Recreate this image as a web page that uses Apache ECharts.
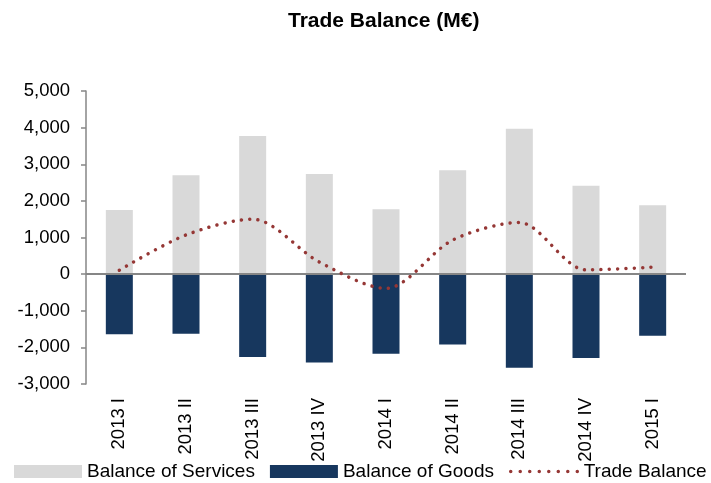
<!DOCTYPE html>
<html style="height: 100%">
<head>
  <meta charset="utf-8">
</head>
<body style="height: 100%; margin: 0">
  <div id="container" style="width: 711px; height: 483px"></div>
  <script type="text/javascript" src="https://cdn.jsdelivr.net/npm/echarts@6/dist/echarts.min.js"></script>
  <script>
    var quarters = ['2013 I', '2013 II', '2013 III', '2013 IV', '2014 I', '2014 II', '2014 III', '2014 IV', '2015 I'];
    var services = [1750, 2700, 3770, 2735, 1770, 2835, 3970, 2410, 1880];
    var goods = [-1645, -1630, -2265, -2410, -2175, -1920, -2555, -2290, -1685];
    var tradeBalance = [105, 1070, 1500, 330, -390, 930, 1410, 115, 190];

    var myChart = echarts.init(document.getElementById('container'), null, { renderer: 'canvas' });

    var font = 'Liberation Sans, Arial, sans-serif';

    var option = {
      animation: false,
      title: {
        text: 'Trade Balance (M€)',
        left: 283,
        top: 6,
        textStyle: { fontFamily: font, fontSize: 21, fontWeight: 'bold', color: '#000' }
      },
      legend: {
        left: 14,
        bottom: 2,
        width: 700,
        padding: 0,
        itemWidth: 68,
        itemHeight: 13,
        itemGap: 15,
        textStyle: { fontFamily: font, fontSize: 19, color: '#000' },
        data: [
          { name: 'Balance of Services', icon: 'rect' },
          { name: 'Balance of Goods', icon: 'rect' },
          {
            name: 'Trade Balance',
            itemStyle: { opacity: 0 },
            lineStyle: { width: 3.5, type: [0.01, 9.5], cap: 'round', color: '#953735' }
          }
        ]
      },
      grid: { left: 86, right: 25, top: 91, bottom: 99 },
      xAxis: {
        type: 'category',
        data: quarters,
        axisLine: { show: false, onZero: false },
        axisTick: { show: false },
        axisLabel: {
          rotate: 90,
          margin: 14,
          fontFamily: font,
          fontSize: 18.5,
          color: '#000'
        }
      },
      yAxis: {
        type: 'value',
        min: -3000,
        max: 5000,
        interval: 1000,
        splitLine: { show: false },
        axisLine: { show: true, lineStyle: { color: '#868686', width: 1.5 } },
        axisTick: { show: true, length: 5, lineStyle: { color: '#868686', width: 1.5 } },
        axisLabel: {
          margin: 16,
          fontFamily: font,
          fontSize: 18.5,
          color: '#000',
          formatter: function (v) { return v.toLocaleString('en-US'); }
        }
      },
      series: [
        {
          name: 'Balance of Services',
          type: 'bar',
          stack: 'total',
          barWidth: 27,
          itemStyle: { color: '#d9d9d9' },
          data: services,
          markLine: {
            silent: true,
            symbol: 'none',
            label: { show: false },
            lineStyle: { color: '#868686', width: 2, type: 'solid' },
            data: [{ yAxis: 0 }]
          }
        },
        {
          name: 'Balance of Goods',
          type: 'bar',
          stack: 'total',
          barWidth: 27,
          itemStyle: { color: '#17375e' },
          data: goods
        },
        {
          name: 'Trade Balance',
          type: 'line',
          smooth: 0.3,
          symbol: 'none',
          z: 5,
          itemStyle: { color: '#953735' },
          lineStyle: { color: '#953735', width: 3.5, type: [0.01, 8.3], cap: 'round' },
          data: tradeBalance
        }
      ]
    };

    myChart.setOption(option);
    window.addEventListener('resize', myChart.resize);
  </script>
</body>
</html>
